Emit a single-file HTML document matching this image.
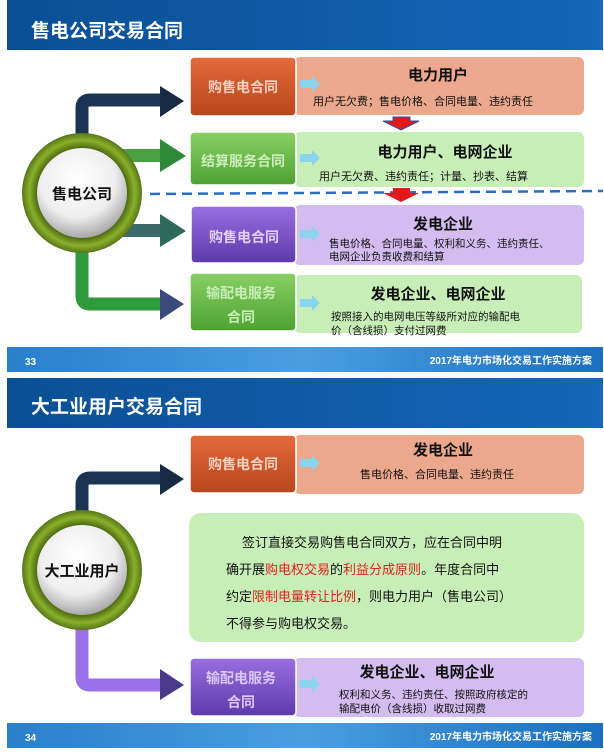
<!DOCTYPE html>
<html><head><meta charset="utf-8"><style>
body{margin:0;background:#fff;width:604px;height:749px;overflow:hidden;font-family:"Liberation Sans","Noto Sans CJK SC",sans-serif}
svg text{font-family:"Liberation Sans","Noto Sans CJK SC",sans-serif}
</style></head><body>
<svg width="604" height="749" viewBox="0 0 604 749" xmlns="http://www.w3.org/2000/svg">
<defs>
<linearGradient id="hdr" x1="0" x2="1"><stop offset="0" stop-color="#0a4f94"/><stop offset="1" stop-color="#1466b8"/></linearGradient>
<linearGradient id="ftr" x1="0" x2="1"><stop offset="0" stop-color="#2a7fcc"/><stop offset="0.5" stop-color="#4a9ee0"/><stop offset="1" stop-color="#1a6fc0"/></linearGradient>
<radialGradient id="ball" cx="0.45" cy="0.35" r="0.7"><stop offset="0" stop-color="#ffffff"/><stop offset="0.6" stop-color="#eeeeee"/><stop offset="1" stop-color="#9a9a9a"/></radialGradient>
<radialGradient id="ring" cx="0.5" cy="0.5" r="0.5"><stop offset="0.75" stop-color="#4c6a10"/><stop offset="0.88" stop-color="#8bb02a"/><stop offset="1" stop-color="#56761a"/></radialGradient>
<linearGradient id="org" x1="0" y1="0" x2="0" y2="1"><stop offset="0" stop-color="#e46a3a"/><stop offset="1" stop-color="#b8461c"/></linearGradient>
<linearGradient id="grn" x1="0" y1="0" x2="0" y2="1"><stop offset="0" stop-color="#8ad064"/><stop offset="1" stop-color="#4ea232"/></linearGradient>
<linearGradient id="pur" x1="0" y1="0" x2="0" y2="1"><stop offset="0" stop-color="#9a6ee0"/><stop offset="1" stop-color="#5e3aaa"/></linearGradient>
</defs>

<!-- ===== Slide 1 ===== -->
<rect x="7" y="0" width="596" height="50" fill="url(#hdr)"/>
<text x="31" y="37" font-size="19" font-weight="bold" fill="#fff">售电公司交易合同</text>

<!-- arrows -->
<path d="M82 140 V108 Q82 100 90 100 H162" stroke="#1b3452" stroke-width="13" fill="none"/>
<polygon points="160,86 184,101 160,117" fill="#172a44"/>
<rect x="120" y="149" width="42" height="13" fill="#48a040"/>
<polygon points="160,139 186,156 160,172" fill="#2e8a36"/>
<rect x="120" y="224" width="42" height="13" fill="#3c6a6a"/>
<polygon points="160,214 186,231 160,247" fill="#2e6a5a"/>
<path d="M82 245 V296 Q82 304 90 304 H162" stroke="#2e9a3a" stroke-width="13" fill="none"/>
<polygon points="160,289 184,304 160,320" fill="#3a4a7a"/>

<!-- circle -->
<circle cx="82" cy="193" r="60" fill="url(#ring)"/>
<circle cx="82" cy="193" r="45" fill="url(#ball)"/>
<text x="82" y="199" font-size="15" font-weight="bold" text-anchor="middle" fill="#111">售电公司</text>

<!-- dashed line -->
<line x1="150" y1="194" x2="603" y2="191" stroke="#2a6cc0" stroke-width="2.5" stroke-dasharray="10,6"/>

<!-- row 1 -->
<rect x="294" y="57" width="290" height="58" rx="6" fill="#eca88c"/>
<rect x="190" y="57" width="106" height="59" rx="4" fill="url(#org)" stroke="#fff" stroke-width="1.5"/>
<text x="243" y="92" font-size="14" font-weight="bold" text-anchor="middle" fill="#f6d0c0">购售电合同</text>
<polygon points="300,80 312,80 312,76 320,84 312,92 312,88 300,88" fill="#8ad4ee"/>
<text x="438" y="80" font-size="15" font-weight="bold" text-anchor="middle" fill="#111">电力用户</text>
<text x="313" y="105" font-size="11" fill="#111">用户无欠费；售电价格、合同电量、违约责任</text>
<polygon points="393,117 410,117 410,121 419,121 401,130 383,121 393,121" fill="#e41818" stroke="#2a50a0" stroke-width="1"/>

<!-- row 2 -->
<rect x="294" y="132" width="290" height="55" rx="6" fill="#c8eeb8"/>
<rect x="190" y="132" width="106" height="53" rx="4" fill="url(#grn)" stroke="#fff" stroke-width="1.5"/>
<text x="243" y="166" font-size="14" font-weight="bold" text-anchor="middle" fill="#cdeebc">结算服务合同</text>
<polygon points="300,154 312,154 312,150 320,158 312,166 312,162 300,162" fill="#8ad4ee"/>
<text x="445" y="157" font-size="15" font-weight="bold" text-anchor="middle" fill="#111">电力用户、电网企业</text>
<text x="319" y="180" font-size="11" fill="#111">用户无欠费、违约责任；计量、抄表、结算</text>
<polygon points="393,188 410,188 410,193 419,193 401,202 383,193 393,193" fill="#e41818"/>

<!-- row 3 -->
<rect x="294" y="205" width="290" height="60" rx="6" fill="#d2bcf0"/>
<rect x="191" y="206" width="105" height="57" rx="4" fill="url(#pur)" stroke="#fff" stroke-width="1.5"/>
<text x="244" y="242" font-size="14" font-weight="bold" text-anchor="middle" fill="#e0d0ff">购售电合同</text>
<polygon points="300,230 312,230 312,226 320,234 312,242 312,238 300,238" fill="#8ad4ee"/>
<text x="443" y="229" font-size="15" font-weight="bold" text-anchor="middle" fill="#111">发电企业</text>
<text x="329" y="247" font-size="10.5" fill="#111">售电价格、合同电量、权利和义务、违约责任、</text>
<text x="329" y="260" font-size="10.5" fill="#111">电网企业负责收费和结算</text>

<!-- row 4 -->
<rect x="294" y="275" width="288" height="58" rx="6" fill="#c8eeb8"/>
<rect x="190" y="273" width="106" height="58" rx="4" fill="url(#grn)" stroke="#fff" stroke-width="1.5"/>
<text x="241" y="298" font-size="14" font-weight="bold" text-anchor="middle" fill="#c8eeb8">输配电服务</text>
<text x="241" y="322" font-size="14" font-weight="bold" text-anchor="middle" fill="#c8eeb8">合同</text>
<polygon points="300,299 312,299 312,295 320,303 312,311 312,307 300,307" fill="#8ad4ee"/>
<text x="438" y="299" font-size="15" font-weight="bold" text-anchor="middle" fill="#111">发电企业、电网企业</text>
<text x="331" y="320" font-size="10.5" fill="#111">按照接入的电网电压等级所对应的输配电</text>
<text x="331" y="334" font-size="10.5" fill="#111">价（含线损）支付过网费</text>

<rect x="7" y="347" width="596" height="25" fill="url(#ftr)"/>
<text x="25" y="365" font-size="10" font-weight="bold" fill="#fff">33</text>
<text x="592" y="364" font-size="10" font-weight="bold" text-anchor="end" fill="#fff">2017年电力市场化交易工作实施方案</text>

<!-- ===== Slide 2 ===== -->
<rect x="7" y="378" width="596" height="50" fill="url(#hdr)"/>
<text x="31" y="413" font-size="19" font-weight="bold" fill="#fff">大工业用户交易合同</text>

<path d="M82 515 V486 Q82 478 90 478 H162" stroke="#1b3452" stroke-width="13" fill="none"/>
<polygon points="160,464 184,479 160,495" fill="#172a44"/>
<path d="M82 625 V677 Q82 685 90 685 H162" stroke="#9a70e8" stroke-width="13" fill="none"/>
<polygon points="160,669 184,685 160,700" fill="#4a3a8a"/>

<circle cx="82" cy="570" r="60" fill="url(#ring)"/>
<circle cx="82" cy="570" r="45" fill="url(#ball)"/>
<text x="82" y="576" font-size="15" font-weight="bold" text-anchor="middle" fill="#111">大工业用户</text>

<rect x="294" y="435" width="290" height="59" rx="6" fill="#eca88c"/>
<rect x="190" y="435" width="106" height="58" rx="4" fill="url(#org)" stroke="#fff" stroke-width="1.5"/>
<text x="243" y="469" font-size="14" font-weight="bold" text-anchor="middle" fill="#f6d0c0">购售电合同</text>
<polygon points="300,459 312,459 312,455 320,463 312,471 312,467 300,467" fill="#8ad4ee"/>
<text x="443" y="455" font-size="15" font-weight="bold" text-anchor="middle" fill="#111">发电企业</text>
<text x="360" y="478" font-size="11" fill="#111">售电价格、合同电量、违约责任</text>

<rect x="189" y="513" width="395" height="129" rx="12" fill="#c8eeb8"/>
<g font-size="13" fill="#111">
<text x="242" y="547">签订直接交易购售电合同双方，应在合同中明</text>
<text x="226" y="574">确开展<tspan fill="#e02020">购电权交易</tspan>的<tspan fill="#e02020">利益分成原则</tspan>。年度合同中</text>
<text x="226" y="601">约定<tspan fill="#e02020">限制电量转让比例</tspan>，则电力用户（售电公司）</text>
<text x="226" y="628">不得参与购电权交易。</text>
</g>

<rect x="294" y="658" width="290" height="59" rx="6" fill="#d2bcf0"/>
<rect x="190" y="658" width="106" height="58" rx="4" fill="url(#pur)" stroke="#fff" stroke-width="1.5"/>
<text x="241" y="683" font-size="14" font-weight="bold" text-anchor="middle" fill="#d8c8ff">输配电服务</text>
<text x="241" y="707" font-size="14" font-weight="bold" text-anchor="middle" fill="#d8c8ff">合同</text>
<polygon points="300,680 312,680 312,676 320,684 312,692 312,688 300,688" fill="#8ad4ee"/>
<text x="427" y="677" font-size="15" font-weight="bold" text-anchor="middle" fill="#111">发电企业、电网企业</text>
<text x="339" y="698" font-size="10.5" fill="#111">权利和义务、违约责任、按照政府核定的</text>
<text x="339" y="712" font-size="10.5" fill="#111">输配电价（含线损）收取过网费</text>

<rect x="7" y="723" width="596" height="25" fill="url(#ftr)"/>
<text x="25" y="741" font-size="10" font-weight="bold" fill="#fff">34</text>
<text x="592" y="740" font-size="10" font-weight="bold" text-anchor="end" fill="#fff">2017年电力市场化交易工作实施方案</text>
</svg>
</body></html>
